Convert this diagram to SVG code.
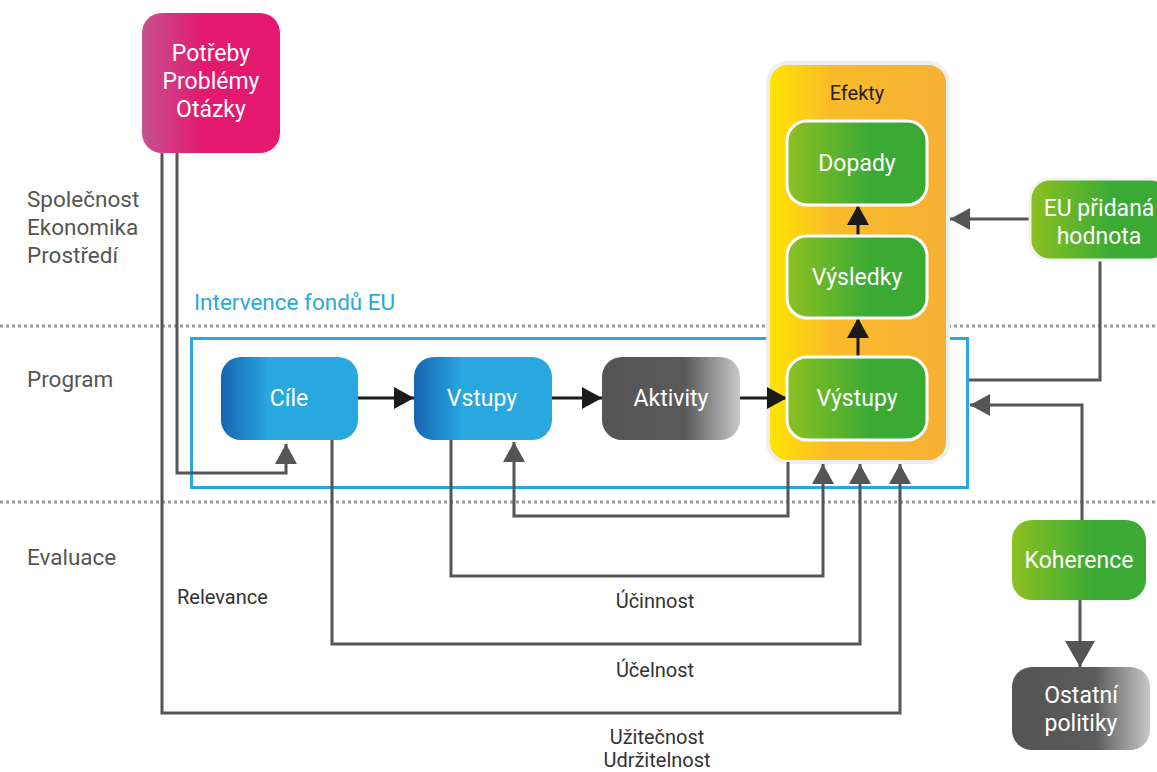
<svg xmlns="http://www.w3.org/2000/svg" width="1157" height="772" viewBox="0 0 1157 772">
<defs>
<linearGradient id="gPink" x1="0" x2="1" y1="0" y2="0"><stop offset="0" stop-color="#c4528e"/><stop offset="0.45" stop-color="#e3196f"/><stop offset="1" stop-color="#e5186f"/></linearGradient>
<linearGradient id="gBlue" x1="0" x2="1" y1="0" y2="0"><stop offset="0" stop-color="#1565b0"/><stop offset="0.35" stop-color="#29a8e0"/><stop offset="1" stop-color="#29a8e0"/></linearGradient>
<linearGradient id="gGray" x1="0" x2="1" y1="0" y2="0"><stop offset="0" stop-color="#555"/><stop offset="0.6" stop-color="#5a5a5a"/><stop offset="1" stop-color="#c8c8c8"/></linearGradient>
<linearGradient id="gGreen" x1="0" x2="1" y1="0" y2="0"><stop offset="0" stop-color="#8dc021"/><stop offset="0.6" stop-color="#3aaa35"/><stop offset="1" stop-color="#3aaa35"/></linearGradient>
<linearGradient id="gYellow" x1="0" x2="1" y1="0" y2="0"><stop offset="0" stop-color="#ffe500"/><stop offset="0.35" stop-color="#f9bb2a"/><stop offset="1" stop-color="#f6b034"/></linearGradient>
<marker id="ab" markerUnits="userSpaceOnUse" markerWidth="20" markerHeight="22" refX="20" refY="11" orient="auto"><path d="M0,0 L20,11 L0,22 Z" fill="#1a1a1a"/></marker>
<marker id="ag" markerUnits="userSpaceOnUse" markerWidth="20" markerHeight="22" refX="20" refY="11" orient="auto"><path d="M0,0 L20,11 L0,22 Z" fill="#555"/></marker>
<marker id="agL" markerUnits="userSpaceOnUse" markerWidth="26" markerHeight="30" refX="26" refY="15" orient="auto"><path d="M0,0 L26,15 L0,30 Z" fill="#555"/></marker>
</defs>
<style>
text{font-family:Roboto,"Liberation Sans",sans-serif}
.lbl{fill:#555;font-size:22.5px}
.ev{fill:#333;font-size:20px;text-anchor:middle}
.evl{fill:#333;font-size:20px;text-anchor:start}
.nt{fill:#fff;font-size:23px;text-anchor:middle}
.dot{stroke:#9a9a9a;stroke-width:3;stroke-dasharray:3 3;fill:none}
.cg{stroke:#555;stroke-width:3;fill:none}
.cb{stroke:#1a1a1a;stroke-width:3;fill:none}
.grn{fill:url(#gGreen);stroke:#fff;stroke-width:3}
</style>

<line class="dot" x1="0" y1="326" x2="1157" y2="326"/>
<line class="dot" x1="0" y1="502" x2="1157" y2="502"/>

<g id="labels">
<text class="lbl" x="27" y="207">Společnost</text>
<text class="lbl" x="27" y="235">Ekonomika</text>
<text class="lbl" x="27" y="263">Prostředí</text>
<text class="lbl" x="27" y="387">Program</text>
<text class="lbl" x="27" y="565">Evaluace</text>
<text x="194" y="310" fill="#29a8e0" font-size="22.5">Intervence fondů EU</text>
<text class="evl" x="177" y="604">Relevance</text>
<text class="ev" x="655" y="608">Účinnost</text>
<text class="ev" x="655" y="677">Účelnost</text>
<text class="ev" x="657" y="744">Užitečnost</text>
<text class="ev" x="657" y="767">Udržitelnost</text>
</g>

<g id="intervence">
<rect x="191.5" y="338.5" width="776" height="149" fill="none" stroke="#29a8e0" stroke-width="3"/>
</g>

<g id="efekty">
<rect x="768" y="63" width="180" height="399" rx="20" fill="url(#gYellow)" stroke="#eeeeee" stroke-width="4"/>
<text x="857" y="100" fill="#222" font-size="20" text-anchor="middle">Efekty</text>
</g>

<g id="connectors">
<polyline class="cg" points="177,153 177,473 286,473 286,444" marker-end="url(#ag)"/>
<polyline class="cg" points="162,153 162,713 900,713 900,464" marker-end="url(#ag)"/>
<polyline class="cg" points="332,440 332,644 860,644 860,464" marker-end="url(#ag)"/>
<polyline class="cg" points="451,440 451,576 823,576 823,464" marker-end="url(#ag)"/>
<polyline class="cg" points="788,462 788,516 514,516 514,442" marker-end="url(#ag)"/>
<polyline class="cg" points="1030,219 950,219" marker-end="url(#ag)"/>
<polyline class="cg" points="1100,260 1100,380 969,380"/>
<polyline class="cg" points="1082,520 1082,405 970,405" marker-end="url(#ag)"/>
<polyline class="cg" points="1080,600 1080,667" marker-end="url(#agL)"/>
<line class="cb" x1="358" y1="398" x2="414" y2="398" marker-end="url(#ab)"/>
<line class="cb" x1="552" y1="398" x2="602" y2="398" marker-end="url(#ab)"/>
<line class="cb" x1="740" y1="398" x2="787" y2="398" marker-end="url(#ab)"/>
<line class="cb" x1="858" y1="357" x2="858" y2="318" marker-end="url(#ab)"/>
<line class="cb" x1="858" y1="236" x2="858" y2="205" marker-end="url(#ab)"/>
</g>

<g id="potreby">
<rect x="142" y="13" width="138" height="140" rx="20" fill="url(#gPink)"/>
<text class="nt" x="211" y="61" font-size="24">Potřeby</text>
<text class="nt" x="211" y="89" font-size="24">Problémy</text>
<text class="nt" x="211" y="117" font-size="24">Otázky</text>
</g>

<g id="cile">
<rect x="221" y="357" width="137" height="83" rx="20" fill="url(#gBlue)"/>
<text class="nt" x="289" y="406">Cíle</text>
</g>
<g id="vstupy">
<rect x="414" y="357" width="138" height="83" rx="20" fill="url(#gBlue)"/>
<text class="nt" x="482" y="406">Vstupy</text>
</g>
<g id="aktivity">
<rect x="602" y="357" width="138" height="83" rx="20" fill="url(#gGray)"/>
<text class="nt" x="671" y="406">Aktivity</text>
</g>
<g id="dopady">
<rect class="grn" x="787" y="121" width="140" height="84" rx="20"/>
<text class="nt" x="857" y="171">Dopady</text>
</g>
<g id="vysledky">
<rect class="grn" x="787" y="236" width="140" height="82" rx="20"/>
<text class="nt" x="857" y="285">Výsledky</text>
</g>
<g id="vystupy">
<rect class="grn" x="787" y="357" width="140" height="83" rx="20"/>
<text class="nt" x="857" y="406">Výstupy</text>
</g>
<g id="eu">
<rect x="1030" y="179" width="140" height="81" rx="20" fill="url(#gGreen)" stroke="#f2f2f2" stroke-width="3"/>
<text class="nt" x="1099" y="216">EU přidaná</text>
<text class="nt" x="1099" y="244">hodnota</text>
</g>
<g id="koherence">
<rect x="1012" y="520" width="134" height="80" rx="20" fill="url(#gGreen)"/>
<text class="nt" x="1079" y="568">Koherence</text>
</g>
<g id="ostatni">
<rect x="1012" y="667" width="138" height="83" rx="20" fill="url(#gGray)"/>
<text class="nt" x="1081" y="703">Ostatní</text>
<text class="nt" x="1081" y="731">politiky</text>
</g>
</svg>
